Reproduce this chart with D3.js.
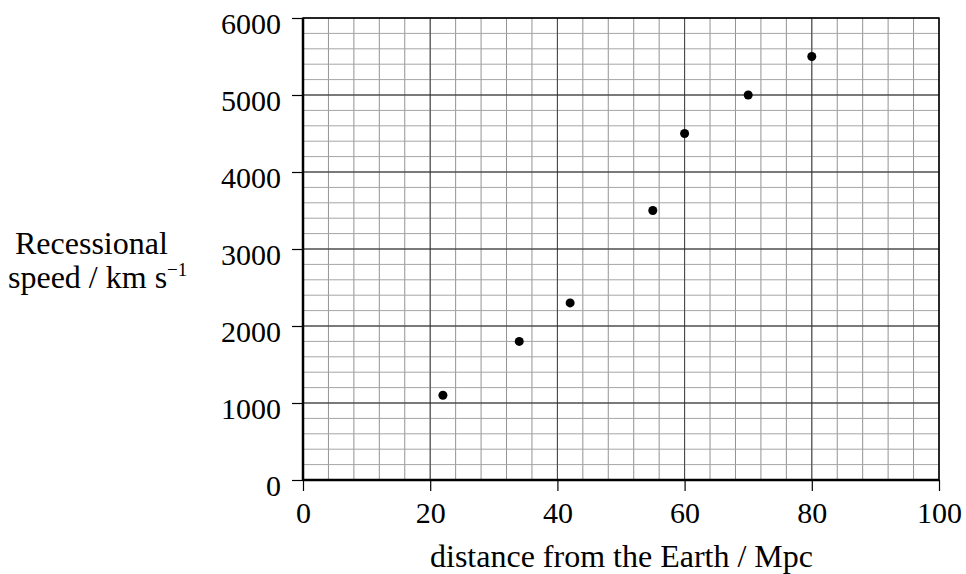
<!DOCTYPE html>
<html>
<head>
<meta charset="utf-8">
<script src="https://cdn.jsdelivr.net/npm/d3@7"></script>
<style>
  body { margin: 0; background: #fff; }
  text { font-family: "Liberation Serif", "Times New Roman", serif; fill: #000; }
</style>
</head>
<body>
<script>
// galaxy distances (Mpc) and recessional speeds (km/s)
var distance = [22, 34, 42, 55, 60, 70, 80];
var speed = [1100, 1800, 2300, 3500, 4500, 5000, 5500];

var xTicks = [0, 20, 40, 60, 80, 100];
var yTicks = [0, 1000, 2000, 3000, 4000, 5000, 6000];

var margin = {left: 303, right: 27, top: 18, bottom: 94};
var width = 966 - margin.left - margin.right;
var height = 574 - margin.top - margin.bottom;

var svg = d3.select("body").append("svg")
    .attr("width", 966)
    .attr("height", 574);

var g = svg.append("g")
    .attr("transform", "translate(" + margin.left + "," + margin.top + ")");

var x = d3.scaleLinear().domain([0, 100]).range([0, width]);
var y = d3.scaleLinear().domain([0, 6000]).range([height, 0]);

// minor grid
g.selectAll("line.vminor")
    .data(d3.range(4, 100, 4))
    .enter().append("line")
    .attr("x1", d => x(d)).attr("x2", d => x(d))
    .attr("y1", 0).attr("y2", height)
    .attr("stroke", "#939393").attr("stroke-width", 1);

g.selectAll("line.hminor")
    .data(d3.range(200, 6000, 200))
    .enter().append("line")
    .attr("x1", 0).attr("x2", width)
    .attr("y1", d => y(d)).attr("y2", d => y(d))
    .attr("stroke", "#a5a5a5").attr("stroke-width", 1);

// major grid
g.selectAll("line.vmajor")
    .data(xTicks)
    .enter().append("line")
    .attr("x1", d => x(d)).attr("x2", d => x(d))
    .attr("y1", 0).attr("y2", height)
    .attr("stroke", "#444").attr("stroke-width", 1);

g.selectAll("line.hmajor")
    .data(yTicks)
    .enter().append("line")
    .attr("x1", 0).attr("x2", width)
    .attr("y1", d => y(d)).attr("y2", d => y(d))
    .attr("stroke", "#222").attr("stroke-width", 1);

// border
g.append("rect")
    .attr("x", 0).attr("y", 0)
    .attr("width", width).attr("height", height)
    .attr("fill", "none")
    .attr("stroke", "#000").attr("stroke-width", 1.5);

// axes
var xAxis = d3.axisBottom(x).tickValues(xTicks).tickFormat(d3.format("d"))
    .tickSizeInner(11).tickSizeOuter(0).tickPadding(11);
var yAxis = d3.axisLeft(y).tickValues(yTicks).tickFormat(d3.format("d"))
    .tickSizeInner(11).tickSizeOuter(0).tickPadding(11);

var xg = g.append("g")
    .attr("transform", "translate(0," + height + ")")
    .call(xAxis);
var yg = g.append("g").call(yAxis);

[xg, yg].forEach(function(a) {
    a.select(".domain").remove();
    a.selectAll("line").attr("stroke", "#000").attr("stroke-width", 1.2);
    a.selectAll("text")
        .style("font-family", "'Liberation Serif', serif")
        .style("font-size", "30px")
        .attr("fill", "#000");
});
yg.selectAll("text").attr("dy", "0.5em");

// thick axis lines
g.append("line")
    .attr("x1", 0).attr("x2", 0)
    .attr("y1", 0).attr("y2", height)
    .attr("stroke", "#000").attr("stroke-width", 2.5);
g.append("line")
    .attr("x1", 0).attr("x2", width)
    .attr("y1", height).attr("y2", height)
    .attr("stroke", "#000").attr("stroke-width", 2.5);

// points
g.selectAll("circle")
    .data(distance)
    .enter().append("circle")
    .attr("cx", d => x(d))
    .attr("cy", (d, i) => y(speed[i]))
    .attr("r", 4.5)
    .attr("fill", "#000");

// axis titles
svg.append("text")
    .attr("x", 430)
    .attr("y", 567)
    .style("font-size", "32px")
    .text("distance from the Earth / Mpc");

svg.append("text")
    .attr("x", 15)
    .attr("y", 254)
    .style("font-size", "32px")
    .text("Recessional");

var t2 = svg.append("text")
    .attr("x", 8)
    .attr("y", 288)
    .style("font-size", "32px");
t2.append("tspan").text("speed / km s");
t2.append("tspan")
    .attr("dy", -12)
    .style("font-size", "19px")
    .text("\u22121");
</script>
</body>
</html>
